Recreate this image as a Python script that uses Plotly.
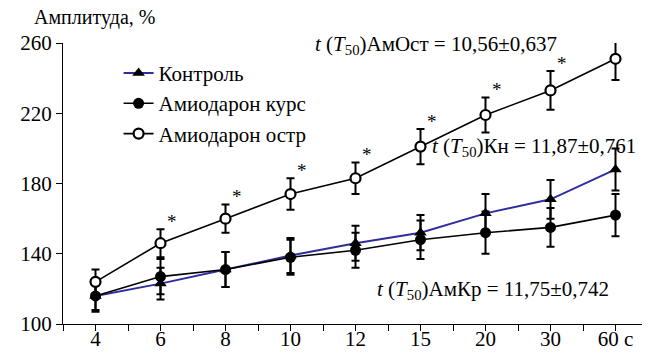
import plotly.graph_objects as go

categories = ["4", "6", "8", "10", "12", "15", "20", "30", "60 с"]
control = [116, 123, 131, 139, 146, 152, 163, 171, 188]
control_err = [9, 9, 10, 10, 10, 10, 11, 11, 12]
course = [116, 127, 131, 138, 142, 148, 152, 155, 162]
course_err = [8, 10, 10, 10, 10, 11, 12, 11, 12]
acute = [124, 146, 160, 174, 183, 201, 219, 233, 251]
acute_err = [7, 8, 8, 9, 9, 10, 10, 11, 12]
star_idx = [1, 2, 3, 4, 5, 6, 7, 8]

xs = list(range(len(categories)))
FONT = "Liberation Serif"

fig = go.Figure()
fig.add_trace(go.Scatter(
    x=xs, y=control, name="Контроль", mode="lines+markers",
    line=dict(color="#2e2e9c", width=2),
    marker=dict(symbol="triangle-up", size=11, color="black"),
    error_y=dict(type="data", array=control_err, color="black", thickness=2, width=4)))
fig.add_trace(go.Scatter(
    x=xs, y=course, name="Амиодарон курс", mode="lines+markers",
    line=dict(color="black", width=1.6),
    marker=dict(symbol="circle", size=11, color="black"),
    error_y=dict(type="data", array=course_err, color="black", thickness=2, width=4)))
fig.add_trace(go.Scatter(
    x=xs, y=acute, name="Амиодарон остр", mode="lines+markers",
    line=dict(color="black", width=1.6),
    marker=dict(symbol="circle", size=10, color="white", line=dict(color="black", width=2.2)),
    error_y=dict(type="data", array=acute_err, color="black", thickness=2, width=4)))

for i in star_idx:
    fig.add_annotation(x=xs[i], y=acute[i] + acute_err[i], text="*", showarrow=False,
                       xshift=11, yshift=8, font=dict(size=19, family=FONT, color="black"))

fig.add_annotation(xref="paper", yref="paper", x=-0.053, y=1.089, xanchor="left", yanchor="middle",
                   text="Амплитуда, %", showarrow=False, font=dict(size=20, family=FONT, color="black"))
fig.add_annotation(x=3.35, y=259, xanchor="left", yanchor="middle", showarrow=False,
                   text="<i>t</i> (<i>T</i><sub>50</sub>)АмОст = 10,56±0,637",
                   font=dict(size=21, family=FONT, color="black"))
fig.add_annotation(x=5.15, y=201, xanchor="left", yanchor="middle", showarrow=False,
                   text="<i>t</i> (<i>T</i><sub>50</sub>)Кн = 11,87±0,761",
                   font=dict(size=21, family=FONT, color="black"))
fig.add_annotation(x=4.3, y=119.5, xanchor="left", yanchor="middle", showarrow=False,
                   text="<i>t</i> (<i>T</i><sub>50</sub>)АмКр = 11,75±0,742",
                   font=dict(size=21, family=FONT, color="black"))

# page body offsets the figure vertically by 8px, so height/top margin compensate
fig.update_layout(
    width=650, height=345,
    margin=dict(l=55, r=10, t=35, b=29),
    plot_bgcolor="white", paper_bgcolor="white",
    font=dict(family=FONT, size=21, color="black"),
    showlegend=True,
    legend=dict(x=0.095, y=0.965, xanchor="left", yanchor="top", bgcolor="rgba(0,0,0,0)",
                font=dict(size=21, family=FONT), tracegroupgap=0, itemwidth=30),
    xaxis=dict(range=[-0.5, 8.5], tickmode="array", tickvals=xs, ticktext=categories,
               automargin=False, ticklabelstandoff=-10,
               showgrid=False, zeroline=False, showline=True, linecolor="black", linewidth=1.2,
               ticks="outside", ticklen=6, tickcolor="black", tickwidth=1.2,
               minor=dict(tickmode="linear", tick0=-0.5, dtick=1, ticks="outside", ticklen=6,
                          tickcolor="black", tickwidth=1.2, showgrid=False),
               tickfont=dict(size=21, family=FONT)),
    yaxis=dict(range=[100, 260], tickmode="array", tickvals=[100, 140, 180, 220, 260],
               automargin=False,
               showgrid=False, zeroline=False, showline=True, linecolor="black", linewidth=1.2,
               ticks="outside", ticklen=6, tickcolor="black", tickwidth=1.2,
               tickfont=dict(size=21, family=FONT)),
)

fig.write_html("out.html")
